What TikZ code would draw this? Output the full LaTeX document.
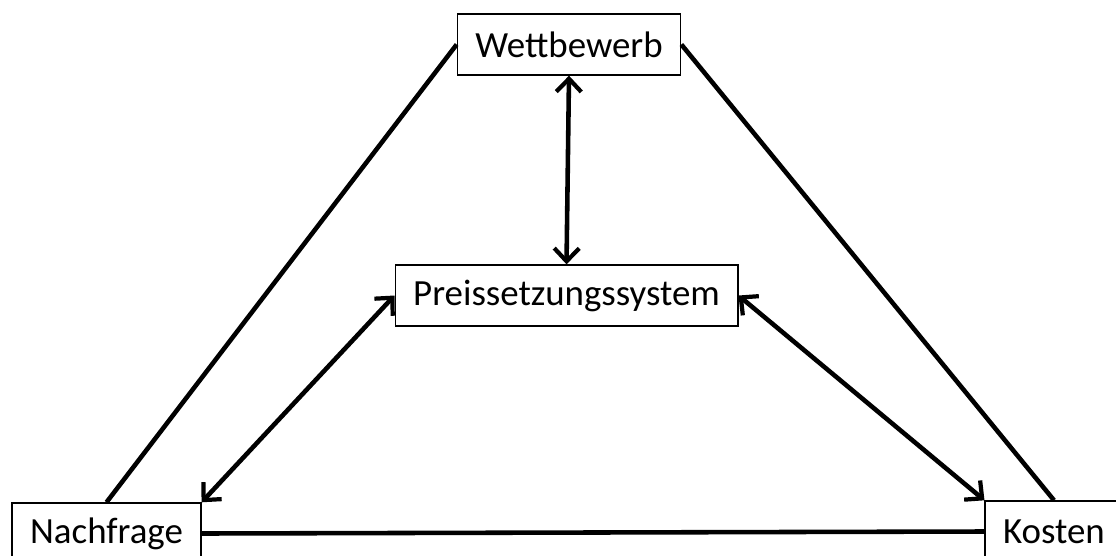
\documentclass[tikz,border=0pt]{standalone}
\usepackage{fontspec}
\setmainfont{Carlito}
\usepackage{tikz}
\usetikzlibrary {arrows.meta, positioning}

\begin{document}
\begin{tikzpicture}[>={Straight Barb[length=2.6mm,width=5mm,line width=2.4pt]},
      line width=2.6pt,
      every box/.style={draw,line width=0.8pt,inner xsep=0.36cm,minimum height=1.22cm,
        font=\fontsize{21}{25}\selectfont}]
      \clip (0,0) rectangle (22.32,11.1);
      \node[every box] (wettb) at (11.38,10.21) {Wettbewerb};
      \node[every box] (preis) at (11.33,5.19) {Preissetzungssystem};
      \node[every box] (nachf) at (2.13,0.43) {Nachfrage};
      \node[every box] (kost) at (21.08,0.47) {Kosten};
      \path
      (wettb.west) edge (nachf.north)
      (wettb.east) edge (kost.north)
      (nachf.east) edge (kost.west);
      \path[<->]
      (wettb.south) edge (preis.north)
      (preis.west) edge (nachf.north east)
      (preis.east) edge (kost.north west);
    \end{tikzpicture}
\end{document}
